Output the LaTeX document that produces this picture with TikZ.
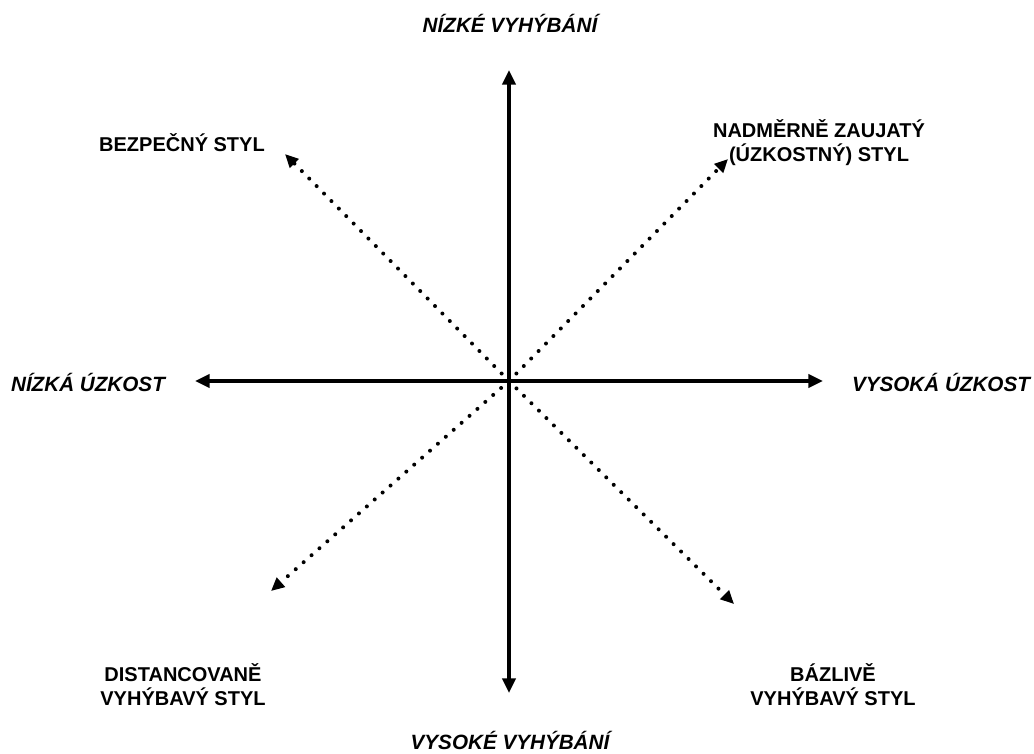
\documentclass[tikz,border=0pt]{standalone}
\usepackage{fontspec}
\setmainfont{Liberation Sans}
\usetikzlibrary{arrows.meta}
\begin{document}
\begin{tikzpicture}[x=0.75pt,y=-0.75pt,
  axis/.style={line width=2.4pt,{Triangle[length=11pt,width=10pt]}-{Triangle[length=11pt,width=10pt]}},
  diag/.style={line width=3pt,line cap=round,dash pattern=on 0pt off 7.9pt,-{Triangle[length=10pt,width=9pt]}},
  lab/.style={font=\bfseries\fontsize{15pt}{18pt}\selectfont,align=center,inner sep=0pt},
  ilab/.style={font=\bfseries\itshape\fontsize{15.5pt}{18pt}\selectfont,align=center,inner sep=0pt}]
\useasboundingbox[fill=white] (0,0) rectangle (1034,753);
\coordinate (c) at (509,381);
\coordinate (top) at (509,70);
\coordinate (bot) at (509,693);
\coordinate (left) at (195,381);
\coordinate (right) at (823,381);
\coordinate (ul) at (285,154);
\coordinate (ur) at (728,159);
\coordinate (ll) at (271,591);
\coordinate (lr) at (734,604);
\draw[axis] (top) -- (bot);
\draw[axis] (left) -- (right);
\draw[diag] (c) -- (ul);
\draw[diag] (c) -- (ur);
\draw[diag] (c) -- (ll);
\draw[diag] (c) -- (lr);
\node[ilab,anchor=base] (nv) at (510,32) {NÍZKÉ VYHÝBÁNÍ};
\node[ilab,anchor=base] (vv) at (510,749) {VYSOKÉ VYHÝBÁNÍ};
\node[ilab] (nu) at (88,382) {NÍZKÁ ÚZKOST};
\node[ilab] (vu) at (941,382) {VYSOKÁ ÚZKOST};
\node[lab] (bs) at (182,143) {BEZPEČNÝ STYL};
\node[lab] (nz) at (819,143) {NADMĚRNĚ ZAUJATÝ\\(ÚZKOSTNÝ) STYL};
\node[lab] (dv) at (183,685) {DISTANCOVANĚ\\VYHÝBAVÝ STYL};
\node[lab] (bv) at (833,685) {BÁZLIVĚ\\VYHÝBAVÝ STYL};
\end{tikzpicture}
\end{document}
